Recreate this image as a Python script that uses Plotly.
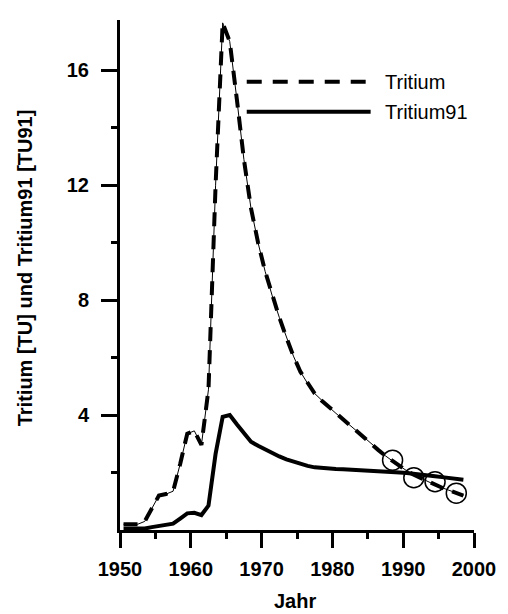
import plotly.graph_objects as go

# ---- data ----
years = [1950.5 + i for i in range(49)]
tritium = [
    0.20, 0.20, 0.20, 0.30, 0.75,
    1.20, 1.25, 1.35, 2.30, 3.35,
    3.45, 2.96, 4.90, 12.0, 17.65,
    17.0, 15.0, 12.9, 11.2, 10.0,
    9.0, 8.15, 7.4, 6.7, 6.05,
    5.5, 5.1, 4.75, 4.5, 4.28,
    4.06, 3.86, 3.65, 3.43, 3.22,
    3.0, 2.78, 2.58, 2.4, 2.22,
    2.06, 1.92, 1.8, 1.68, 1.57,
    1.47, 1.38, 1.29, 1.2,
]
tritium91 = [
    0.05, 0.05, 0.05, 0.05, 0.10,
    0.15, 0.17, 0.22, 0.40, 0.58,
    0.60, 0.52, 0.85, 2.65, 3.94,
    4.00, 3.68, 3.37, 3.07, 2.93,
    2.80, 2.67, 2.56, 2.46, 2.38,
    2.30, 2.23, 2.18, 2.15, 2.13,
    2.12, 2.11, 2.10, 2.09, 2.08,
    2.07, 2.06, 2.04, 2.03, 2.00,
    1.98, 1.96, 1.93, 1.90, 1.87,
    1.84, 1.81, 1.78, 1.75,
]
meas_years = [1988.5, 1991.5, 1994.5, 1997.5]
meas_vals = [2.43, 1.82, 1.68, 1.28]

x_ticks = [1950, 1960, 1970, 1980, 1990, 2000]
x_minor = [1955, 1965, 1975, 1985, 1995]
y_ticks = [4, 8, 12, 16]
y_minor = [2, 6, 10, 14]

FONT = "Liberation Sans, Arial, sans-serif"

fig = go.Figure()
# thin underlying line of Tritium
fig.add_trace(go.Scatter(x=years, y=tritium, mode="lines",
                         line=dict(color="black", width=1), showlegend=False))
# thick dashes of Tritium
fig.add_trace(go.Scatter(x=years, y=tritium, mode="lines", name="Tritium",
                         line=dict(color="black", width=4, dash="14px,9px"),
                         showlegend=False))
fig.add_trace(go.Scatter(x=years, y=tritium91, mode="lines", name="Tritium91",
                         line=dict(color="black", width=4), showlegend=False))
fig.add_trace(go.Scatter(x=meas_years, y=meas_vals, mode="markers",
                         marker=dict(symbol="circle-open", size=20,
                                     color="black", line=dict(width=1.5, color="black")),
                         showlegend=False))

tickfont = dict(family=FONT, size=20, color="black", weight="bold")
fig.update_xaxes(range=[1950, 2000], tickvals=x_ticks, ticks="outside",
                 ticklen=15, tickwidth=3, tickcolor="black",
                 showline=True, linewidth=3, linecolor="black",
                 showgrid=False, zeroline=False, tickfont=tickfont,
                 ticklabelstandoff=4,
                 minor=dict(tickvals=x_minor, ticks="outside", ticklen=6,
                            tickwidth=3, tickcolor="black", showgrid=False))
fig.update_yaxes(range=[0, 17.75], tickvals=y_ticks, ticks="outside",
                 ticklen=16, tickwidth=3, tickcolor="black",
                 showline=True, linewidth=3, linecolor="black",
                 showgrid=False, zeroline=False, tickfont=tickfont,
                 ticklabelstandoff=8,
                 minor=dict(tickvals=y_minor, ticks="outside", ticklen=6,
                            tickwidth=3, tickcolor="black", showgrid=False))

# legend drawn manually (long line samples as in the original)
fig.add_shape(type="line", xref="paper", yref="paper", x0=0.358, x1=0.694,
              y0=0.879, y1=0.879, line=dict(color="black", width=4, dash="15px,11px"))
fig.add_shape(type="line", xref="paper", yref="paper", x0=0.358, x1=0.708,
              y0=0.820, y1=0.820, line=dict(color="black", width=4))
legfont = dict(family=FONT, size=20, color="black")
fig.add_annotation(xref="paper", yref="paper", x=0.744, y=0.879, text="Tritium",
                   showarrow=False, xanchor="left", yanchor="middle", font=legfont)
fig.add_annotation(xref="paper", yref="paper", x=0.744, y=0.820, text="Tritium91",
                   showarrow=False, xanchor="left", yanchor="middle", font=legfont)

titlefont = dict(family=FONT, size=20, color="black", weight="bold")
fig.add_annotation(xref="paper", yref="paper", x=-0.27, y=0.514,
                   text="Tritium [TU] und Tritium91 [TU91]", textangle=-90,
                   showarrow=False, xanchor="center", yanchor="middle", font=titlefont)
fig.add_annotation(xref="paper", yref="paper", x=0.493, y=-0.162, text="Jahr",
                   showarrow=False, xanchor="center", yanchor="bottom", font=titlefont,
                   borderpad=0)

fig.update_layout(width=508, height=614, margin=dict(l=120, r=25, t=20, b=84),
                  plot_bgcolor="white", paper_bgcolor="white", showlegend=False)

fig.write_html("out.html")
